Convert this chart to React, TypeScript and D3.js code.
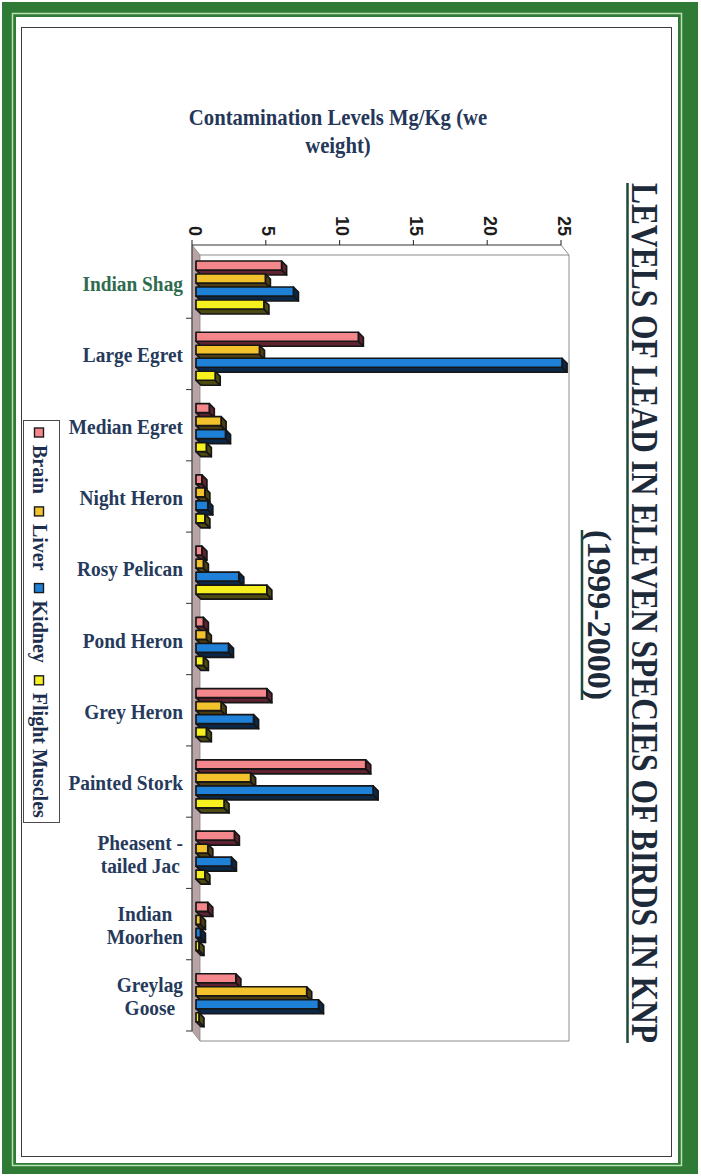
import React, { useEffect, useRef } from "react";
import * as d3 from "d3";

// Bird species (category axis), with the wrapped label lines used on the chart
const species = [
  "Indian Shag",
  "Large Egret",
  "Median Egret",
  "Night Heron",
  "Rosy Pelican",
  "Pond Heron",
  "Grey Heron",
  "Painted Stork",
  "Pheasent - tailed Jac",
  "Indian Moorhen",
  "Greylag Goose",
];
const speciesLines = [
  ["Indian Shag"],
  ["Large Egret"],
  ["Median Egret"],
  ["Night Heron"],
  ["Rosy Pelican"],
  ["Pond Heron"],
  ["Grey Heron"],
  ["Painted Stork"],
  ["Pheasent -", "tailed Jac"],
  ["Indian", "Moorhen"],
  ["Greylag", "Goose"],
];

// Tissues (series)
const tissues = ["Brain", "Liver", "Kidney", "Flight Muscles"];

// Lead levels, Mg/Kg wet weight
const brain = [5.8, 11.0, 0.9, 0.4, 0.4, 0.5, 4.8, 11.5, 2.6, 0.8, 2.7];
const liver = [4.7, 4.3, 1.7, 0.6, 0.5, 0.7, 1.7, 3.7, 0.8, 0.3, 7.5];
const kidney = [6.6, 24.8, 2.0, 0.8, 2.9, 2.2, 3.9, 12.0, 2.4, 0.3, 8.3];
const flightMuscles = [4.6, 1.3, 0.7, 0.6, 4.8, 0.5, 0.7, 1.9, 0.6, 0.2, 0.2];

const valueTicks = [0, 5, 10, 15, 20, 25];

const titleText = "LEVELS OF LEAD IN ELEVEN SPECIES OF BIRDS IN KNP";
const subtitleText = "(1999-2000)";
const axisTitleLines = ["Contamination Levels Mg/Kg (we", "weight)"];

const faceColors = ["#f4878b", "#f1c22c", "#1f80d8", "#f6f11e"];
const sideColors = ["#5e2230", "#4e3f12", "#0c2848", "#4d4b12"];

const SERIF = "'Liberation Serif','Times New Roman',serif";
const SANS = "'Liberation Sans',Arial,sans-serif";

export default function App() {
  const ref = useRef<SVGSVGElement>(null);

  useEffect(() => {
    const svg = d3.select(ref.current!);
    svg.selectAll("*").remove();

    // ---- green page frame ----
    svg.append("rect").attr("x", 2).attr("y", 2).attr("width", 696).attr("height", 1172).attr("fill", "#2f7b35");
    svg.append("rect").attr("x", 12.5).attr("y", 13.5).attr("width", 669).attr("height", 1152)
      .attr("fill", "none").attr("stroke", "#b8e0b0").attr("stroke-width", 1.5);
    svg.append("rect").attr("x", 16).attr("y", 17).attr("width", 662).attr("height", 1146).attr("fill", "#fff");
    svg.append("rect").attr("x", 21.5).attr("y", 27.5).attr("width", 650).attr("height", 1129)
      .attr("fill", "none").attr("stroke", "#3c3c3c").attr("stroke-width", 1);

    // ---- scales ----
    const front = { left: 192, right: 561, top: 245, bottom: 1031 };
    const depth = { dx: 8, dy: 10 };
    const x = d3.scaleLinear().domain([0, 25]).range([front.left, front.right]);
    const y = d3.scaleBand<string>().domain(species).range([247, 1031]);
    const ys = d3.scaleBand<string>().domain(tissues).range([14, 14 + 52]);
    const faceH = 9;
    const barX0 = front.left + 4;
    const side = { dx: 5, dy: 5 };

    // ---- floor (left strip) and back wall outline ----
    svg.append("polygon")
      .attr("points", [
        [front.left, front.top],
        [front.left + depth.dx, front.top + depth.dy],
        [front.left + depth.dx, front.bottom + depth.dy],
        [front.left, front.bottom],
      ].map((p) => p.join(",")).join(" "))
      .attr("fill", "#b8a4a6").attr("stroke", "#8a8080").attr("stroke-width", 0.8);

    const wall = svg.append("g").attr("stroke", "#8c8c8c").attr("stroke-width", 1).attr("fill", "none");
    const bl = front.left + depth.dx, br = front.right + depth.dx;
    const bt = front.top + depth.dy, bb = front.bottom + depth.dy;
    wall.append("path").attr("d", `M${bl},${bt}H${br}V${bb}H${bl}`);
    wall.append("path").attr("d", `M${front.right},${front.top}L${br},${bt}`);

    // ---- bars (3D boxes: bottom side, end side, face) ----
    const seriesValues = [brain, liver, kidney, flightMuscles];
    const bars = svg.append("g").attr("stroke", "#161616").attr("stroke-width", 1.7).attr("stroke-linejoin", "round");
    species.forEach((sp, i) => {
      tissues.forEach((t, j) => {
        const v = seriesValues[j][i];
        const x1 = barX0 + (x(v) - x(0));
        const top = y(sp)! + ys(t)!;
        const bot = top + faceH;
        bars.append("polygon")
          .attr("points", `${barX0},${bot} ${x1},${bot} ${x1 + side.dx},${bot + side.dy} ${barX0 + side.dx},${bot + side.dy}`)
          .attr("fill", sideColors[j]);
        bars.append("polygon")
          .attr("points", `${x1},${top} ${x1 + side.dx},${top + side.dy} ${x1 + side.dx},${bot + side.dy} ${x1},${bot}`)
          .attr("fill", sideColors[j]);
        bars.append("rect")
          .attr("x", barX0).attr("y", top)
          .attr("width", Math.max(0.5, x1 - barX0)).attr("height", faceH)
          .attr("fill", faceColors[j]);
      });
    });

    // ---- value axis (top) ----
    const ax = svg.append("g").attr("stroke", "#333").attr("stroke-width", 1.1);
    ax.append("line").attr("x1", front.left).attr("x2", front.right).attr("y1", front.top).attr("y2", front.top);
    valueTicks.forEach((t) => {
      ax.append("line").attr("x1", x(t)).attr("x2", x(t)).attr("y1", front.top - 5).attr("y2", front.top);
    });
    const tickG = svg.append("g").attr("font-family", SANS).attr("font-weight", "bold").attr("font-size", 18).attr("fill", "#1c1c1c");
    valueTicks.forEach((t) => {
      tickG.append("text")
        .attr("transform", `translate(${x(t) - 3.5},${front.top - 9}) rotate(90)`)
        .attr("text-anchor", "end")
        .text(String(t));
    });

    // ---- category axis (left) ----
    const cx = svg.append("g").attr("stroke", "#444").attr("stroke-width", 1.1);
    cx.append("line").attr("x1", front.left).attr("x2", front.left).attr("y1", front.top).attr("y2", front.bottom);
    species.forEach((sp) => {
      const yb = y(sp)! + y.bandwidth();
      cx.append("line").attr("x1", front.left - 6).attr("x2", front.left).attr("y1", yb).attr("y2", yb);
    });

    const SX = 0.88;
    const labelRight = 183;
    const lineH = 23;
    const lab = svg.append("g").attr("font-family", SERIF).attr("font-weight", "bold").attr("font-size", 22);
    speciesLines.forEach((lines, i) => {
      const cy = y(species[i])! + y.bandwidth() / 2;
      const texts = lines.map((ln) =>
        lab.append("text").text(ln).attr("text-anchor", "middle").attr("fill", i === 0 ? "#2f6b4e" : "#263a5c")
      );
      const widths = texts.map((tx) => (tx.node() as SVGTextElement).getComputedTextLength() * SX);
      const blockW = Math.max(...widths);
      const mid = labelRight - blockW / 2;
      texts.forEach((tx, k) => {
        const base = cy + 8.5 + (k - (lines.length - 1) / 2) * lineH;
        tx.attr("transform", `translate(${mid},${base}) scale(${SX},1)`);
      });
    });

    // ---- value axis title ----
    const at = svg.append("g").attr("font-family", SERIF).attr("font-weight", "bold").attr("font-size", 23).attr("fill", "#253759");
    axisTitleLines.forEach((ln, k) => {
      at.append("text").attr("text-anchor", "middle")
        .attr("transform", `translate(338,${125 + k * 27.5}) scale(0.9,1)`)
        .text(ln);
    });

    // ---- chart title (rotated, condensed, underlined) ----
    const tg = svg.append("g").attr("font-family", SERIF).attr("font-weight", "bold").attr("fill", "#1c2a3a");
    const condensed = (text: string, size: number, bx: number, cy: number, len: number) => {
      const t = tg.append("text").attr("text-anchor", "middle").attr("font-size", size).text(text);
      const w = (t.node() as SVGTextElement).getComputedTextLength();
      t.attr("transform", `translate(${bx},${cy}) rotate(90) scale(${len / w},1)`);
    };
    condensed(titleText, 37, 632, 613, 860);
    tg.append("line").attr("x1", 627.5).attr("x2", 627.5).attr("y1", 183).attr("y2", 1043)
      .attr("stroke", "#1d4a3a").attr("stroke-width", 2.5);
    condensed(subtitleText, 34, 588, 615, 170);
    tg.append("line").attr("x1", 582).attr("x2", 582).attr("y1", 530).attr("y2", 700)
      .attr("stroke", "#1d4a3a").attr("stroke-width", 2.5);

    // ---- legend (rotated) ----
    const lg = svg.append("g");
    lg.append("rect").attr("x", 23.5).attr("y", 420.5).attr("width", 36).attr("height", 402)
      .attr("fill", "#fff").attr("stroke", "#4a4a4a").attr("stroke-width", 1);
    let pos = 428;
    tissues.forEach((t, j) => {
      lg.append("rect").attr("x", 34.5).attr("y", pos).attr("width", 9).attr("height", 9)
        .attr("fill", faceColors[j]).attr("stroke", "#1b1b1b").attr("stroke-width", 1.4);
      pos += 9 + 8;
      const tx = lg.append("text")
        .attr("transform", `translate(33,${pos}) rotate(90)`)
        .attr("font-family", SERIF).attr("font-weight", "bold").attr("font-size", 20)
        .attr("fill", "#1e2e4e")
        .text(t);
      pos += (tx.node() as SVGTextElement).getComputedTextLength() + 13;
    });
  }, []);

  return (
    <svg
      ref={ref}
      width={701}
      height={1176}
      style={{ position: "absolute", left: 0, top: 0, display: "block", background: "#fff" }}
    />
  );
}
